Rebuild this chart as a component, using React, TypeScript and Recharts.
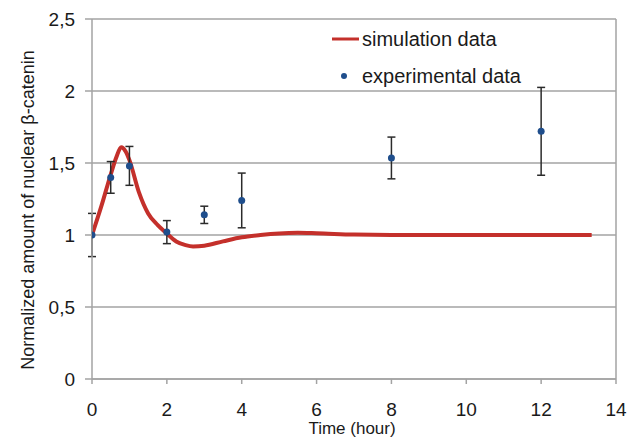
import {
  CartesianGrid,
  ComposedChart,
  ErrorBar,
  Legend,
  Line,
  ReferenceLine,
  Scatter,
  XAxis,
  YAxis,
} from "recharts";

const FONT = '"Liberation Sans", Arial, sans-serif';
const RED = "#C4302B";
const BLUE = "#1F4E8C";
const GRID = "#A3A3A3";

// simulation curve
const simTimes = [
  0, 0.25, 0.5, 0.65, 0.78, 0.9, 1, 1.25, 1.5, 1.75, 2, 2.25, 2.5, 2.7, 3, 3.5, 4, 4.5, 5, 5.5, 6, 7,
  8, 10, 12, 13.35,
];
const simValues = [
  1, 1.2, 1.42, 1.54, 1.61, 1.58, 1.52, 1.3, 1.15, 1.07, 1.01, 0.955, 0.93, 0.921, 0.926, 0.956,
  0.984, 1.0, 1.011, 1.015, 1.012, 1.003, 1.0, 1.0, 1.0, 1.0,
];

// experimental points with symmetric error
const expTimes = [0, 0.5, 1, 2, 3, 4, 8, 12];
const expValues = [1.0, 1.4, 1.48, 1.02, 1.14, 1.24, 1.535, 1.72];
const expErrors = [0.15, 0.11, 0.135, 0.08, 0.06, 0.19, 0.145, 0.305];

const xTicks = [0, 2, 4, 6, 8, 10, 12, 14];
const yTicks = [0, 0.5, 1, 1.5, 2, 2.5];

const simData = simTimes.map((t, i) => ({ t, v: simValues[i] }));
const expData = expTimes.map((t, i) => ({ t, v: expValues[i], err: expErrors[i] }));

const tickStyle = { fontSize: 19, fill: "#1a1a1a", fontFamily: FONT };

function YTitle({ viewBox }: any) {
  const x = 28;
  const y = viewBox.y + viewBox.height / 2 + 11;
  return (
    <text
      x={x}
      y={y}
      transform={`rotate(-90 ${x} ${y})`}
      textAnchor="middle"
      dominantBaseline="central"
      fontSize={18}
      fontFamily={FONT}
      fill="#1a1a1a"
    >
      Normalized amount of nuclear β-catenin
    </text>
  );
}

function XTitle({ viewBox }: any) {
  const x = viewBox.x + viewBox.width / 2 - 2;
  return (
    <text x={x} y={434} textAnchor="middle" fontSize={17} fontFamily={FONT} fill="#1a1a1a">
      Time (hour)
    </text>
  );
}

function LegendBox() {
  const row = { display: "flex", alignItems: "center", height: 37 } as const;
  return (
    <div style={{ fontFamily: FONT, fontSize: 20, color: "#1a1a1a", lineHeight: 1 }}>
      <div style={row}>
        <svg width={32} height={10}>
          <line x1={2} y1={5} x2={29} y2={5} stroke={RED} strokeWidth={3} />
        </svg>
        <span>simulation data</span>
      </div>
      <div style={row}>
        <svg width={32} height={10}>
          <circle cx={14} cy={5} r={3} fill={BLUE} />
        </svg>
        <span>experimental data</span>
      </div>
    </div>
  );
}

export default function App() {
  return (
    <div style={{ position: "absolute", left: 0, top: 0, background: "#fff" }}>
      <ComposedChart width={630} height={440} margin={{ top: 19, right: 14, bottom: 30, left: 0 }}>
        <CartesianGrid vertical={false} stroke={GRID} strokeWidth={1.5} />
        <XAxis
          type="number"
          dataKey="t"
          domain={[0, 14]}
          ticks={xTicks}
          allowDataOverflow
          height={31}
          tickSize={5}
          tickMargin={19}
          tick={tickStyle}
          stroke={GRID}
          strokeWidth={1.5}
          label={<XTitle />}
        />
        <YAxis
          type="number"
          domain={[0, 2.5]}
          ticks={yTicks}
          width={92}
          tickSize={7}
          tickMargin={10}
          tick={tickStyle}
          stroke={GRID}
          strokeWidth={1.5}
          tickFormatter={(v: number) => String(v).replace(".", ",")}
          label={<YTitle />}
        />
        <ReferenceLine x={14} stroke={GRID} strokeWidth={1.5} />
        <Legend
          layout="horizontal"
          verticalAlign="middle"
          align="center"
          content={<LegendBox />}
          wrapperStyle={{ left: 330, top: 20, width: "auto" }}
        />
        <Line
          data={simData}
          type="monotone"
          dataKey="v"
          stroke={RED}
          strokeWidth={4}
          dot={false}
          activeDot={false}
          isAnimationActive={false}
        />
        <Scatter
          data={expData}
          dataKey="v"
          fill={BLUE}
          isAnimationActive={false}
          shape={(p: any) => <circle cx={p.cx} cy={p.cy} r={3.5} fill={BLUE} />}
        >
          <ErrorBar
            dataKey="err"
            direction="y"
            width={4}
            stroke="#2b2b2b"
            strokeWidth={1.5}
            isAnimationActive={false}
          />
        </Scatter>
      </ComposedChart>
    </div>
  );
}
